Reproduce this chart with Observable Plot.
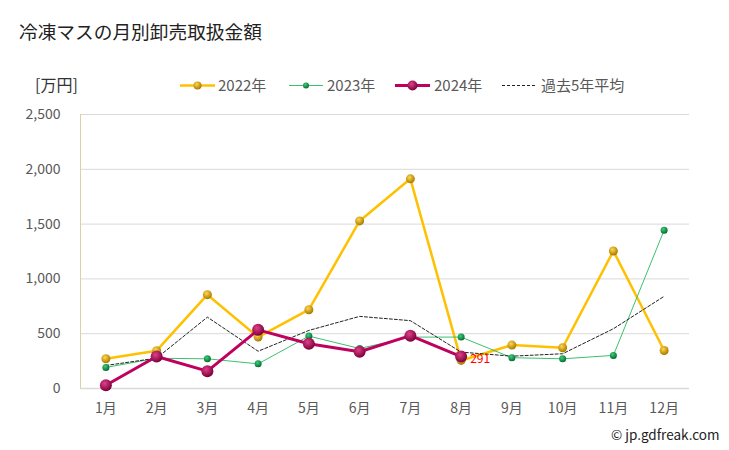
<!DOCTYPE html>
<html><head><meta charset="utf-8">
<script src="https://cdn.jsdelivr.net/npm/d3@7"></script>
<script src="https://cdn.jsdelivr.net/npm/@observablehq/plot@0.6"></script>
<style>
body{margin:0;background:#fff;font-family:"Noto Sans CJK JP","Noto Sans",sans-serif;}
#wrap{position:relative;width:729px;height:450px;overflow:hidden;}
#wrap svg.plot{position:absolute;left:0;top:0;}
.t{position:absolute;white-space:nowrap;line-height:1;}
</style></head>
<body><div id="wrap"></div>
<script>
const months = ["1月","2月","3月","4月","5月","6月","7月","8月","9月","10月","11月","12月"];
const v2022 = [271, 345, 856, 469, 719, 1529, 1913, 256, 396, 372, 1255, 347];
const v2023 = [192, 276, 271, 225, 478, 365, 469, 469, 281, 271, 302, 1444];
const v2024 = [30, 292, 158, 535, 408, 335, 482, 291];
const vAvg  = [210, 277, 651, 340, 530, 658, 619, 332, 295, 317, 545, 841];
const yTicks = [0, 500, 1000, 1500, 2000, 2500];
const title = "冷凍マスの月別卸売取扱金額";
const unit = "[万円]";
const seriesNames = ["2022年", "2023年", "2024年", "過去5年平均"];
const lastLabel = "291";

const toRows = (vals) => vals.map((v, i) => ({m: months[i], v}));
const r2022 = toRows(v2022), r2023 = toRows(v2023), r2024 = toRows(v2024), rAvg = toRows(vAvg);

const defs = () => {
  const ns = "http://www.w3.org/2000/svg";
  const d = document.createElementNS(ns, "defs");
  const mk = (id, c0, c1) => {
    const g = document.createElementNS(ns, "radialGradient");
    g.setAttribute("id", id); g.setAttribute("cx", "40%"); g.setAttribute("cy", "35%"); g.setAttribute("r", "65%");
    [[0, c0], [1, c1]].forEach(([o, c]) => {
      const s = document.createElementNS(ns, "stop");
      s.setAttribute("offset", o); s.setAttribute("stop-color", c); g.appendChild(s);
    });
    d.appendChild(g);
  };
  mk("g2022", "#ffd84a", "#a87800");
  mk("g2023", "#3fd07a", "#006b30");
  mk("g2024", "#e0408a", "#7a0038");
  return d;
};

const chart = Plot.plot({
  width: 729, height: 450,
  marginLeft: 80, marginRight: 40, marginTop: 114, marginBottom: 62,
  style: {fontFamily: '"Noto Sans CJK JP","Noto Sans",sans-serif', fontSize: "14px", color: "#595959", background: "transparent"},
  x: {type: "point", domain: months, padding: 0.5, round: false, axis: null},
  y: {domain: [0, 2500], axis: null},
  marks: [
    defs,
    Plot.ruleY(yTicks.filter(t => t > 0), {stroke: "#d9d9d9", strokeWidth: 1}),
    Plot.ruleY([0], {stroke: "#d9d9d9", strokeWidth: 1.5}),
    Plot.axisY(yTicks, {tickSize: 0, tickPadding: 20, tickFormat: d3.format(","), fill: "#595959", fontSize: 14, label: null}),
    Plot.axisX(months, {tickSize: 0, tickPadding: 15, fill: "#595959", fontSize: 14, label: null}),
    Plot.line(r2022, {x: "m", y: "v", stroke: "#ffc000", strokeWidth: 2.5}),
    Plot.line(r2023, {x: "m", y: "v", stroke: "#3cc070", strokeWidth: 1}),
    Plot.line(rAvg, {x: "m", y: "v", stroke: "#222", strokeWidth: 1, strokeDasharray: "3,2"}),
    Plot.line(r2024, {x: "m", y: "v", stroke: "#c0005f", strokeWidth: 3}),
    Plot.dot(r2022, {x: "m", y: "v", r: 4.5, fill: "url(#g2022)"}),
    Plot.dot(r2023, {x: "m", y: "v", r: 3.5, fill: "url(#g2023)"}),
    Plot.dot(r2024, {x: "m", y: "v", r: 6, fill: "url(#g2024)"}),
    Plot.text([r2024[r2024.length - 1]], {x: "m", y: "v", text: () => lastLabel, fill: "#ff0000", fontSize: 12, textAnchor: "start", dx: 9, dy: 3})
  ]
});
chart.classList.add("plot");
const wrap = document.getElementById("wrap");
wrap.appendChild(chart);

const ns = "http://www.w3.org/2000/svg";
const vline = document.createElementNS(ns, "line");
vline.setAttribute("x1", 80.5); vline.setAttribute("x2", 80.5);
vline.setAttribute("y1", 114); vline.setAttribute("y2", 388);
vline.setAttribute("stroke", "#ddd0a8");
chart.appendChild(vline);

function addText(txt, left, top, size, color, extra) {
  const d = document.createElement("div");
  d.className = "t"; d.textContent = txt;
  d.style.left = left + "px"; d.style.top = top + "px";
  d.style.fontSize = size + "px"; d.style.color = color;
  if (extra) Object.assign(d.style, extra);
  wrap.appendChild(d);
  return d;
}
addText(title, 19, 22, 18.7, "#222");
addText(unit, 35, 76, 16, "#333");
addText("© jp.gdfreak.com", 611, 428, 13.5, "#222");

// legend
const legend = [
  {name: seriesNames[0], x0: 180, x1: 215, tx: 218, color: "#ffc000", w: 2.5, r: 4, g: "url(#g2022)"},
  {name: seriesNames[1], x0: 289, x1: 323, tx: 327, color: "#3cc070", w: 1, r: 3, g: "url(#g2023)"},
  {name: seriesNames[2], x0: 395, x1: 430, tx: 434, color: "#c0005f", w: 3, r: 5, g: "url(#g2024)"},
  {name: seriesNames[3], x0: 502, x1: 537, tx: 541, color: "#222", w: 1, r: 0, dash: "3,2"}
];
const ly = 85.5;
legend.forEach(l => {
  const ln = document.createElementNS(ns, "line");
  ln.setAttribute("x1", l.x0); ln.setAttribute("x2", l.x1);
  ln.setAttribute("y1", ly); ln.setAttribute("y2", ly);
  ln.setAttribute("stroke", l.color); ln.setAttribute("stroke-width", l.w);
  if (l.dash) ln.setAttribute("stroke-dasharray", l.dash);
  chart.appendChild(ln);
  if (l.r) {
    const c = document.createElementNS(ns, "circle");
    c.setAttribute("cx", (l.x0 + l.x1) / 2); c.setAttribute("cy", ly); c.setAttribute("r", l.r);
    c.setAttribute("fill", l.g);
    chart.appendChild(c);
  }
  addText(l.name, l.tx, ly - 8.5, 15, "#595959");
});
</script></body></html>
